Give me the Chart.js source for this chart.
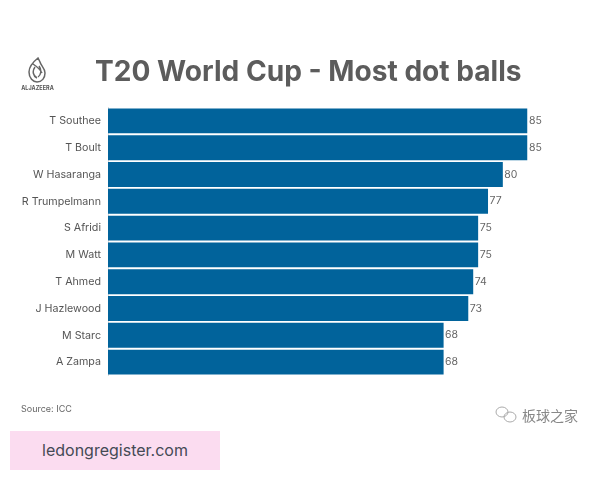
<!DOCTYPE html>
<html>
<head>
<meta charset="utf-8">
<script src="https://cdn.jsdelivr.net/npm/chart.js@4"></script>
<style>
  body { margin: 0; background: #fff; }
  #wrap { position: relative; width: 600px; height: 480px; overflow: hidden; font-family: Inter, sans-serif; }
  #wrap div { position: absolute; white-space: nowrap; }
  canvas { position: absolute; left: 0; top: 0; }
  #title { left: 95px; top: 54px; font-size: 28.1px; font-weight: 700; color: #5c5c5c; }
  #logo-name { left: 21px; top: 85px; width: 33px; text-align: center; font-size: 5.5px; font-weight: 700; color: #555; }
  #source { left: 21px; top: 403px; font-size: 9px; color: #666; }
  #promo { left: 10px; top: 431px; width: 210px; height: 39px; line-height: 39px; text-align: center; background: #fbdcf0; color: #444a55; font-size: 16px; }
  #wechat { left: 522px; top: 405px; font-family: "Noto Sans CJK SC"; font-size: 14px; color: #888; }
</style>
</head>
<body>
<div id="wrap">
  <canvas id="chart" width="600" height="480"></canvas>
  <svg style="position:absolute;left:27px;top:57px" width="20" height="27" viewBox="0 0 20 27">
    <path d="M11 1 C6 5 2 9 2 15 C2 21 6 25 10 25 C15 25 18 21 18 16 C18 11 14 9 13 5 Z M8 10 C5 14 6 19 10 21 M12 9 C15 13 14 18 11 20 M6 7 C9 9 13 12 15 16" fill="none" stroke="#666" stroke-width="1.5"/>
  </svg>
  <div id="logo-name">ALJAZEERA</div>
  <div id="title">T20 World Cup - Most dot balls</div>
  <div id="source">Source: ICC</div>
  <svg style="position:absolute;left:494px;top:405px" width="26" height="20" viewBox="0 0 26 20">
    <ellipse cx="8" cy="7" rx="6" ry="5" fill="none" stroke="#aaa"/>
    <ellipse cx="16" cy="12" rx="6" ry="5" fill="none" stroke="#aaa"/>
  </svg>
  <div id="wechat">板球之家</div>
  <div id="promo">ledongregister.com</div>
</div>
<script>
// Most dot balls, top ten bowlers
const players = ['T Southee', 'T Boult', 'W Hasaranga', 'R Trumpelmann', 'S Afridi', 'M Watt', 'T Ahmed', 'J Hazlewood', 'M Starc', 'A Zampa'];
const dotBalls = [85, 85, 80, 77, 75, 75, 74, 73, 68, 68];

// Number at the end of each bar
const barLabels = {
  id: 'barLabels',
  afterDatasetsDraw(chart) {
    const c = chart.ctx;
    c.save();
    c.font = '10.5px Inter';
    c.fillStyle = '#666';
    c.textBaseline = 'middle';
    chart.getDatasetMeta(0).data.forEach((bar, i) => {
      c.fillText(dotBalls[i], bar.x + 1.5, bar.y);
    });
    c.restore();
  }
};

new Chart(document.getElementById('chart'), {
  type: 'bar',
  data: {
    labels: players,
    datasets: [{
      data: dotBalls,
      backgroundColor: '#01639b',
      barPercentage: 0.93,
      categoryPercentage: 1
    }]
  },
  options: {
    indexAxis: 'y',
    responsive: false,
    animation: false,
    layout: { padding: { left: 0, right: 72.5, top: 107.5, bottom: 104.5 } },
    plugins: { legend: { display: false }, tooltip: { enabled: false } },
    scales: {
      x: { display: false, min: 0, max: 85 },
      y: {
        afterFit(scale) { scale.width = 108; },
        grid: { display: false, drawTicks: false },
        border: { display: true, color: '#ddd' },
        ticks: { color: '#555', padding: 7, font: { family: 'Inter', size: 10.7 } }
      }
    }
  },
  plugins: [barLabels]
});
</script>
</body>
</html>
